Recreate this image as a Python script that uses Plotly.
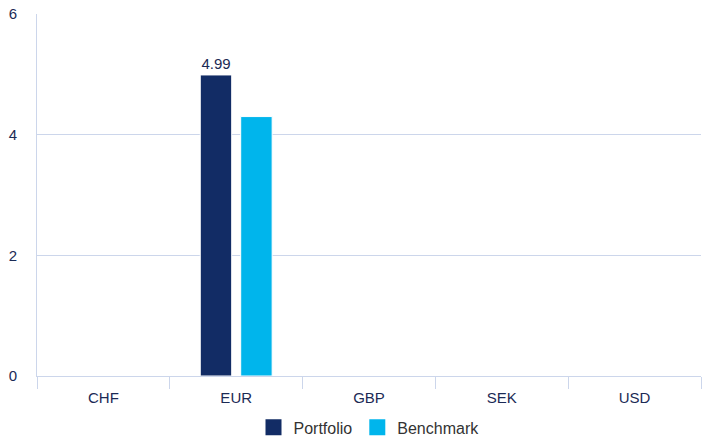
import plotly.graph_objects as go

currencies = ["CHF", "EUR", "GBP", "SEK", "USD"]
portfolio = [0, 4.99, 0, 0, 0]
benchmark = [0, 4.30, 0, 0, 0]
portfolio_labels = ["", "4.99", "", "", ""]

navy = "#122c65"
cyan = "#00b5ec"
text_col = "#1b2a55"
grid_col = "#ccd6eb"

fig = go.Figure()
fig.add_trace(go.Bar(
    name="Portfolio", x=currencies, y=portfolio, showlegend=False,
    marker=dict(color=navy, line=dict(color="white", width=1)),
    text=portfolio_labels, textposition="outside", cliponaxis=False,
    textfont=dict(color=text_col, size=15),
))
fig.add_trace(go.Bar(
    name="Benchmark", x=currencies, y=benchmark, showlegend=False,
    marker=dict(color=cyan, line=dict(color="white", width=1)),
))

# square legend keys
for name, col in [("Portfolio", navy), ("Benchmark", cyan)]:
    fig.add_trace(go.Scatter(
        name=name, x=[None], y=[None], mode="markers",
        marker=dict(symbol="square", size=18, color=col),
    ))

fig.update_layout(
    width=702, height=442,
    margin=dict(l=37, r=1, t=14, b=66, autoexpand=False),
    plot_bgcolor="white", paper_bgcolor="white",
    font=dict(family="Liberation Sans, Arial, sans-serif", color=text_col, size=14),
    barmode="group", bargap=0.391, bargroupgap=0.222,
    showlegend=True,
    legend=dict(orientation="h", x=0.5, xanchor="center", y=-0.095, yanchor="top",
                font=dict(size=16, color="#333333"), itemwidth=30,
                tracegroupgap=0),
    xaxis=dict(
        showgrid=False, showline=True, linecolor=grid_col, linewidth=1,
        ticks="outside", tickson="boundaries", ticklen=12, tickcolor=grid_col,
        tickfont=dict(size=15, color=text_col), automargin=False,
        ticklabelstandoff=8,
    ),
    yaxis=dict(
        range=[0, 6], dtick=2, showgrid=True, gridcolor=grid_col, gridwidth=1,
        showline=True, linecolor=grid_col, zeroline=False, automargin=False,
        ticks="", ticklabelstandoff=16,
        tickfont=dict(size=15, color=text_col),
    ),
)

fig.write_html("out.html")
